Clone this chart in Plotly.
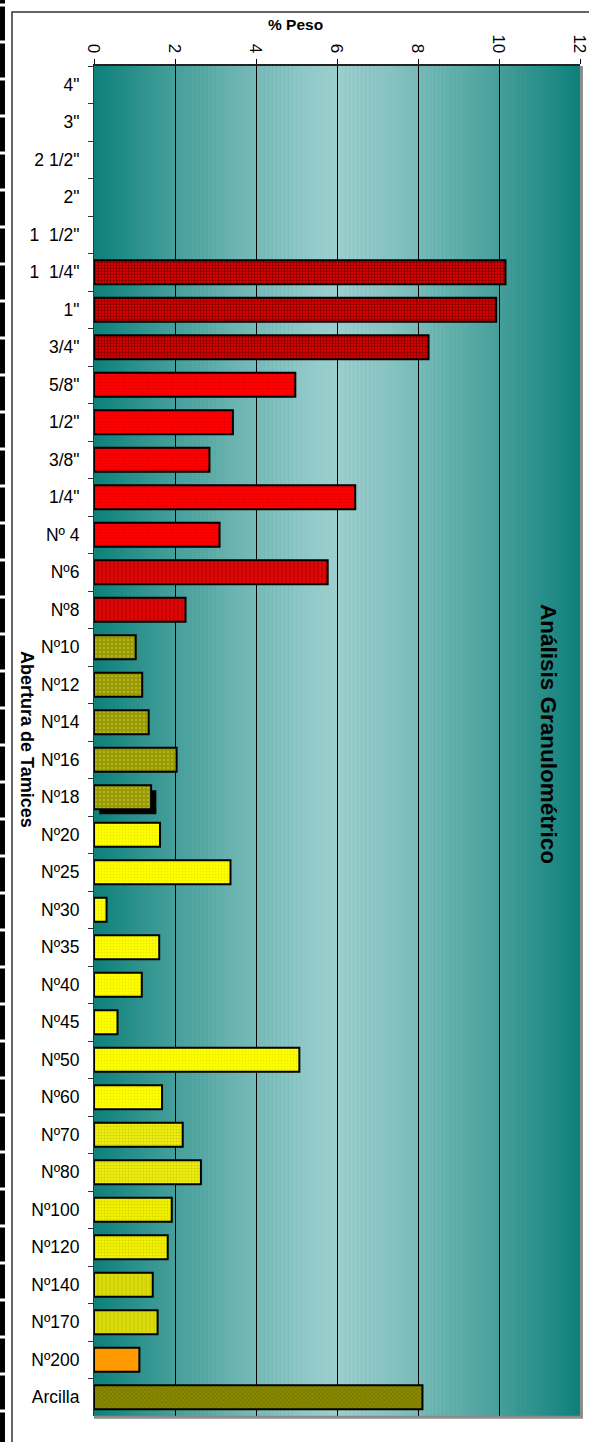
import plotly.graph_objects as go

categories = ['4"', '3"', '2 1/2"', '2"', '1  1/2"', '1  1/4"', '1"', '3/4"', '5/8"', '1/2"',
              '3/8"', '1/4"', 'Nº 4', 'Nº6', 'Nº8', 'Nº10', 'Nº12', 'Nº14', 'Nº16', 'Nº18',
              'Nº20', 'Nº25', 'Nº30', 'Nº35', 'Nº40', 'Nº45', 'Nº50', 'Nº60', 'Nº70', 'Nº80',
              'Nº100', 'Nº120', 'Nº140', 'Nº170', 'Nº200', 'Arcilla']
peso = [0, 0, 0, 0, 0, 10.16, 9.93, 8.26, 4.97, 3.43,
        2.85, 6.45, 3.10, 5.77, 2.26, 1.03, 1.19, 1.35, 2.04, 1.41,
        1.63, 3.37, 0.31, 1.61, 1.18, 0.58, 5.07, 1.68, 2.19, 2.64,
        1.92, 1.82, 1.45, 1.57, 1.12, 8.11]
x_ticks = [0, 2, 4, 6, 8, 10, 12]
shadow_category = 'Nº18'

# style group of each category
groups = (["g0"] * 5 + ["dred"] * 3 + ["red"] * 5 + ["sred"] * 2 + ["olive"] * 5 +
          ["yel"] * 8 + ["yel2"] * 2 + ["yel3"] * 2 + ["yel4"] * 2 + ["orange"] + ["arc"])
# colour, pattern colour, pattern shape, pattern size, solidity, outline width
style = {
    "g0": ("#ff0000", "#000000", "", 4, 0.3, 0),
    "dred": ("#e80000", "#000000", ".", 3, 0.45, 2),
    "red": ("#ff0000", "#c80000", ".", 3, 0.35, 2),
    "sred": ("#cc0000", "#ff2020", "|", 4, 0.3, 2),
    "olive": ("#999900", "#c8c850", ".", 4, 0.3, 2),
    "yel": ("#ffff00", "#d6d600", ".", 3, 0.3, 2),
    "yel2": ("#eeee10", "#b0b000", ".", 3, 0.35, 2),
    "yel3": ("#f2f200", "#bcbc00", ".", 3, 0.3, 2),
    "yel4": ("#d2d200", "#f0f040", "|", 4, 0.3, 2),
    "orange": ("#ff9900", "#ff9900", "", 4, 0.3, 2),
    "arc": ("#8a8a00", "#505000", "x", 3, 0.35, 2),
}
BW = 0.64

fig = go.Figure()
# offset dark shadow behind one bar (as in the original)
sv = peso[categories.index(shadow_category)]
fig.add_trace(go.Bar(y=[shadow_category], x=[sv], base=[0.13], orientation="h", width=BW,
                     offset=-BW / 2 + 0.13, marker=dict(color="#000000", line=dict(width=0)),
                     showlegend=False, hoverinfo="skip"))
order = []
for g in groups:
    if g not in order:
        order.append(g)
for g in order:
    ys = [c for c, gg in zip(categories, groups) if gg == g]
    xs = [v for v, gg in zip(peso, groups) if gg == g]
    col, fg, shp, sz, sol, lw = style[g]
    fig.add_trace(go.Bar(
        y=ys, x=xs, orientation="h", width=BW,
        marker=dict(color=col, line=dict(color="#000000", width=lw),
                    pattern=dict(shape=shp, fgcolor=fg, bgcolor=col, size=sz, solidity=sol)),
        showlegend=False,
    ))

# gradient background strips
shapes = []
n = 120
dark = (14, 128, 122)
light = (155, 206, 205)
for i in range(n):
    x0 = 12 * i / n
    x1 = 12 * (i + 1) / n
    xc = (x0 + x1) / 2
    t = abs(xc - 6) / 6
    t = t ** 1.25
    c = tuple(int(round(light[k] * (1 - t) + dark[k] * t)) for k in range(3))
    shapes.append(dict(type="rect", xref="x", yref="paper", x0=x0, x1=x1 + 0.01, y0=0, y1=1,
                       fillcolor="rgb(%d,%d,%d)" % c, line=dict(width=0), layer="below"))

# plot area right/bottom gray edge
shapes.append(dict(type="line", xref="paper", yref="paper", x0=1.003, x1=1.003, y0=-0.001, y1=1,
                   line=dict(color="#8c8c8c", width=3)))
shapes.append(dict(type="line", xref="paper", yref="paper", x0=0, x1=1.006, y0=-0.001, y1=-0.001,
                   line=dict(color="#8c8c8c", width=3)))
# outer chart border
shapes.append(dict(type="rect", xref="paper", yref="paper", x0=-0.1687, x1=1.05, y0=-0.05, y1=1.04,
                   line=dict(color="#333333", width=1.5)))
# thick dashed black edge at far left
shapes.append(dict(type="line", xref="paper", yref="paper", x0=-0.1883, x1=-0.1883, y0=-0.05, y1=1.05,
                   line=dict(color="#000000", width=5, dash="34px,3px")))

L, R = 94, 9
PW = 589 - L - R
fig.update_layout(
    width=589, height=1442,
    margin=dict(l=L, r=R, t=66, b=26, autoexpand=False),
    paper_bgcolor="white", plot_bgcolor="#0e807a",
    font=dict(family="Liberation Sans, Arial, sans-serif", size=17, color="#000000"),
    shapes=shapes,
    barmode="overlay",
    xaxis=dict(side="top", range=[0, 12], tickvals=x_ticks, ticktext=[str(v) for v in x_ticks],
               tickangle=90, ticks="outside", ticklen=5, tickcolor="#000000",
               showgrid=True, gridcolor="#000000", gridwidth=1, zeroline=False,
               showline=True, linecolor="#222222", linewidth=1.5, automargin=False,
               ticklabeloverflow="allow", tickfont=dict(size=17)),
    yaxis=dict(autorange="reversed", categoryorder="array", categoryarray=categories,
               type="category", ticks="outside", tickson="boundaries", ticklen=5,
               tickcolor="#333333", showline=True, linecolor="#333333", linewidth=1,
               showgrid=False, tickfont=dict(size=17.5), ticklabelstandoff=10,
               automargin=False),
    annotations=[
        dict(text="<b>% Peso</b>", xref="paper", yref="paper", x=(295 - L) / PW,
             y=(1416 - 25) / 1350, showarrow=False, font=dict(size=15.5), xanchor="center",
             yanchor="middle"),
        dict(text="<b>Análisis Granulométrico</b>", xref="paper", yref="paper",
             x=(549 - L) / PW, y=(1416 - 734) / 1350, textangle=90, showarrow=False,
             font=dict(size=22.5), xanchor="center", yanchor="middle"),
        dict(text="<b>Abertura de Tamices</b>", xref="paper", yref="paper",
             x=(27 - L) / PW, y=(1416 - 739) / 1350, textangle=90, showarrow=False,
             font=dict(size=18), xanchor="center", yanchor="middle"),
    ],
)

fig.write_html("out.html")
